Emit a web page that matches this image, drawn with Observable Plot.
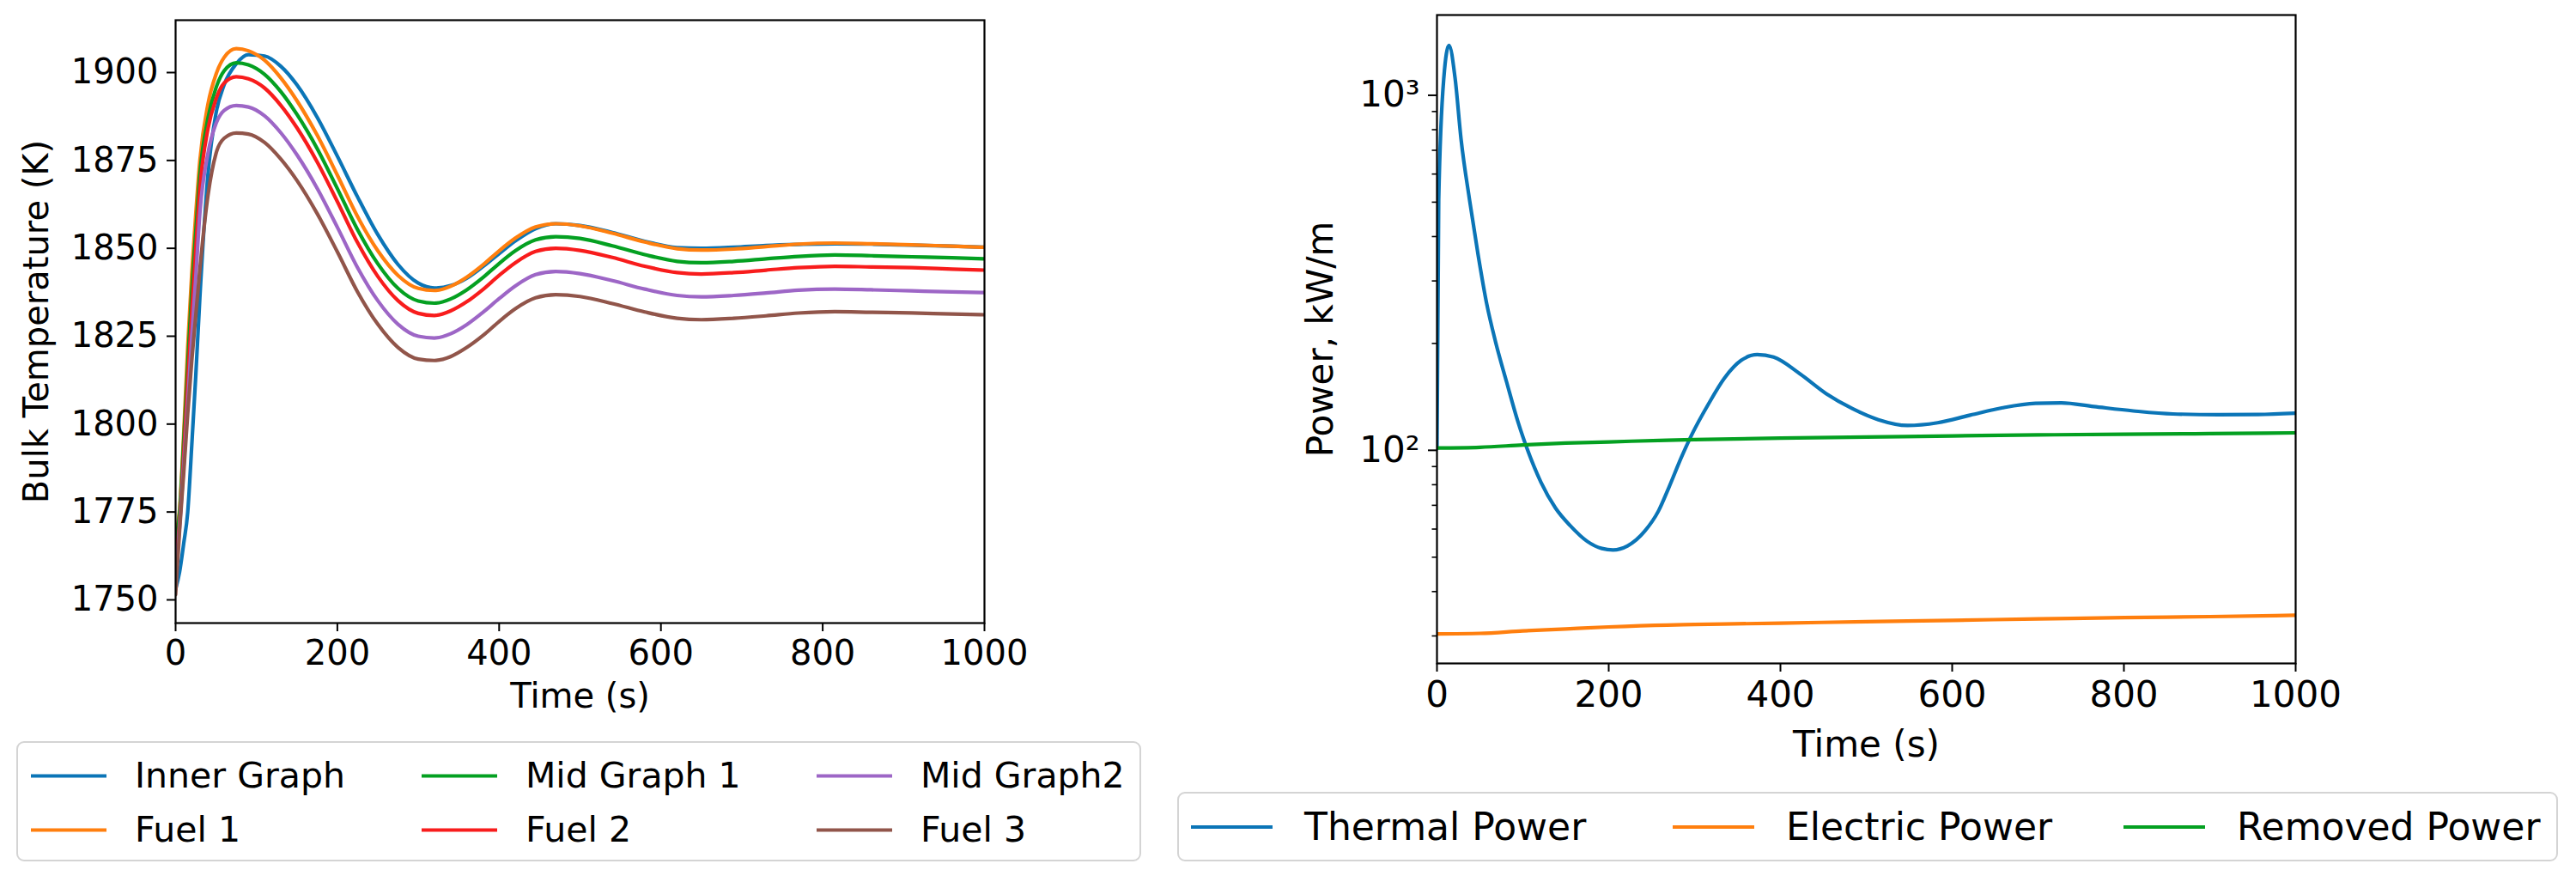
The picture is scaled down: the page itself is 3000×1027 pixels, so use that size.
<!DOCTYPE html>
<html>
<head>
<meta charset="utf-8">
<script src="https://cdn.jsdelivr.net/npm/d3@7"></script>
<script src="https://cdn.jsdelivr.net/npm/@observablehq/plot@0.6"></script>
<style>
  body { margin: 0; background: white; width: 3000px; height: 1027px; position: relative; overflow: hidden;
         font-family: "DejaVu Sans", sans-serif; color: black; }
  .chart { position: absolute; top: 0; }
  .legend { position: absolute; box-sizing: border-box; border: 2.5px solid #d4d4d4; border-radius: 9px; background: white; }
  .item { position: absolute; display: flex; align-items: center; transform: translateY(-50%); white-space: nowrap; line-height: 1; }
  .item svg { display: block; }
</style>
</head>
<body>
<div id="left" class="chart" style="left:0px"></div>
<div id="right" class="chart" style="left:1480px"></div>
<script>
// ---- left panel: bulk temperatures ----
const tTemp = [0, 5, 10, 15, 20, 25, 30, 40, 50, 60, 75, 90, 110, 130, 150, 175, 200, 225, 250, 275,
  300, 320, 340, 360, 380, 400, 420, 445, 470, 500, 540, 580, 620, 650, 690, 730, 770, 815, 860, 910, 960, 1000];
const innerGraph = [1753, 1758, 1766, 1775, 1794, 1814, 1836, 1871, 1888.5, 1896.5, 1902.5, 1905.1, 1904.7, 1901.8, 1896.5, 1887.3, 1876.2, 1864.6, 1853.9, 1845.4,
  1840.1, 1838.7, 1839.4, 1841.5, 1844.8, 1848.5, 1852.1, 1855.6, 1857.0, 1856.5, 1854.5, 1852.0, 1850.2, 1850.0, 1850.3, 1850.8, 1851.1, 1851.3, 1851.2, 1850.9, 1850.6, 1850.3];
const fuel1 = [1769, 1776, 1797, 1822, 1843, 1860, 1875, 1891, 1899.5, 1904.3, 1906.8, 1906.2, 1903.5, 1898.5, 1892.0, 1882.2, 1870.8, 1859.0, 1849.3, 1842.3,
  1838.6, 1838.0, 1839.2, 1841.8, 1845.3, 1849.3, 1852.9, 1856.1, 1857.0, 1856.4, 1854.3, 1851.8, 1849.9, 1849.5, 1849.8, 1850.5, 1851.2, 1851.5, 1851.3, 1851.0, 1850.6, 1850.3];
const midGraph1 = [1766.8, 1775, 1795, 1817, 1838, 1855, 1871, 1887, 1895.7, 1900.5, 1902.8, 1902.2, 1899.5, 1894.6, 1888.1, 1878.4, 1867.0, 1855.3, 1845.6, 1838.6,
  1835.0, 1834.4, 1835.6, 1838.2, 1841.7, 1845.7, 1849.3, 1852.4, 1853.3, 1852.8, 1850.7, 1848.2, 1846.3, 1845.9, 1846.3, 1847.0, 1847.7, 1848.1, 1847.9, 1847.6, 1847.3, 1847.0];
const fuel2 = [1762, 1772, 1791, 1812, 1832, 1850, 1867, 1884, 1892.5, 1897, 1898.8, 1898.2, 1895.6, 1890.7, 1884.3, 1874.6, 1863.3, 1851.6, 1842.0, 1835.1,
  1831.5, 1830.9, 1832.2, 1834.8, 1838.3, 1842.3, 1845.9, 1849.1, 1850.0, 1849.4, 1847.4, 1844.9, 1843.1, 1842.7, 1843.1, 1843.8, 1844.5, 1844.9, 1844.7, 1844.5, 1844.1, 1843.8];
const midGraph2 = [1756.3, 1771, 1788, 1806, 1825, 1842, 1860, 1877, 1885.5, 1889.2, 1890.6, 1890.2, 1887.7, 1882.9, 1876.6, 1867.1, 1856.0, 1844.5, 1835.1, 1828.4,
  1825.0, 1824.5, 1825.7, 1828.3, 1831.8, 1835.7, 1839.3, 1842.5, 1843.4, 1842.8, 1840.8, 1838.4, 1836.6, 1836.2, 1836.6, 1837.3, 1838.1, 1838.4, 1838.2, 1837.9, 1837.6, 1837.4];
const fuel3 = [1751.5, 1770, 1786, 1803, 1818, 1831, 1844, 1865, 1877, 1881.3, 1882.8, 1882.5, 1880.1, 1875.4, 1869.3, 1859.9, 1849.0, 1837.6, 1828.4, 1821.8,
  1818.5, 1818.1, 1819.2, 1821.8, 1825.2, 1829.2, 1832.8, 1835.9, 1836.8, 1836.3, 1834.3, 1831.9, 1830.1, 1829.7, 1830.1, 1830.8, 1831.6, 1832.0, 1831.8, 1831.6, 1831.3, 1831.1];
const tempNames = ["Inner Graph", "Fuel 1", "Mid Graph 1", "Fuel 2", "Mid Graph2", "Fuel 3"];
const tempValues = [innerGraph, fuel1, midGraph1, fuel2, midGraph2, fuel3];
const tempColors = ["#0b75b7", "#ff7f0e", "#04a021", "#f81c1c", "#9d66c6", "#91554a"];
const tempTicks = [1750, 1775, 1800, 1825, 1850, 1875, 1900];
const timeTicks = [0, 200, 400, 600, 800, 1000];

// ---- right panel: power (log scale) ----
const tThermal = [0, 2, 8, 14, 21, 28, 38, 48, 58, 68, 81, 94, 105, 121, 138, 155, 175, 192, 205, 222,
  242, 258, 270, 285, 297, 316, 335, 354, 373, 392, 423, 453, 484, 514, 548, 583, 621, 659, 697, 727, 765, 811, 857, 910, 956, 1000];
const thermalPower = [101, 506, 1122, 1383, 1122, 754, 506, 354, 258, 203, 156, 121, 101, 81.4, 68.8, 61.4, 55.4, 52.9, 52.4, 53.8,
  59.2, 67.5, 78.5, 96, 111, 134.8, 160, 179, 186, 183, 164, 144.6, 131, 122, 117.5, 119.6, 125.6, 131.8, 135.6, 136, 132.8, 129.1, 126.6, 126, 126.2, 127.3];
const tPower = [0, 50, 100, 150, 200, 268, 300, 400, 500, 600, 700, 800, 900, 1000];
const electricPower = [30.4, 30.5, 31.0, 31.4, 31.8, 32.2, 32.3, 32.6, 32.9, 33.2, 33.5, 33.8, 34.0, 34.3];
const removedPower = [101.5, 102, 103.5, 104.8, 105.6, 106.8, 107.2, 108.2, 109, 109.8, 110.5, 111, 111.4, 112];
const powerNames = ["Thermal Power", "Electric Power", "Removed Power"];
const powerColors = ["#0b75b7", "#ff7f0e", "#04a021"];
const powerMajor = [100, 1000];
const powerMinor = [30, 40, 50, 60, 70, 80, 90, 200, 300, 400, 500, 600, 700, 800, 900];

const FONT = '"DejaVu Sans", sans-serif';
const LW = 4.2;

const tempRows = tempNames.flatMap((name, k) => tTemp.map((t, i) => ({t, v: tempValues[k][i], name})));
const powerRows = [
  ...tThermal.map((t, i) => ({t, v: thermalPower[i], name: powerNames[0]})),
  ...tPower.map((t, i) => ({t, v: electricPower[i], name: powerNames[1]})),
  ...tPower.map((t, i) => ({t, v: removedPower[i], name: powerNames[2]})),
];

const left = Plot.plot({
  width: 1220, height: 850,
  marginLeft: 204, marginTop: 23, marginRight: 74, marginBottom: 125,
  style: {fontFamily: FONT, fontSize: "40px", color: "black", background: "white"},
  x: {domain: [0, 1000]},
  y: {domain: [1743.4, 1914.9]},
  color: {domain: tempNames, range: tempColors},
  marks: [
    Plot.line(tempRows, {x: "t", y: "v", z: "name", stroke: "name", strokeWidth: LW, curve: "monotone-x", clip: true}),
    Plot.frame({stroke: "black", strokeWidth: 2.2}),
    Plot.axisX({ticks: timeTicks, tickSize: 10, tickPadding: 10, strokeWidth: 2, tickFormat: d3.format("d"), label: null, fontSize: 40}),
    Plot.axisY({ticks: tempTicks, tickSize: 10, tickPadding: 10, strokeWidth: 2, tickFormat: d3.format("d"), label: null, fontSize: 40}),
    Plot.text(["Time (s)"], {frameAnchor: "bottom", dy: 98, fontSize: 40}),
    Plot.text(["Bulk Temperature (K)"], {frameAnchor: "left", dx: -161, rotate: -90, textAnchor: "middle", fontSize: 40}),
  ]
});
document.getElementById("left").append(left);

const right = Plot.plot({
  width: 1300, height: 905,
  marginLeft: 193, marginTop: 17, marginRight: 107, marginBottom: 133,
  style: {fontFamily: FONT, fontSize: "42px", color: "black", background: "white"},
  x: {domain: [0, 1000]},
  y: {type: "log", domain: [25.1, 1683]},
  color: {domain: powerNames, range: powerColors},
  marks: [
    Plot.line(powerRows, {x: "t", y: "v", z: "name", stroke: "name", strokeWidth: LW, curve: "monotone-x", clip: true}),
    Plot.frame({stroke: "black", strokeWidth: 2.2}),
    Plot.axisX({ticks: timeTicks, tickSize: 10, tickPadding: 11, strokeWidth: 2, tickFormat: d3.format("d"), label: null, fontSize: 42}),
    Plot.axisY({ticks: powerMajor, tickSize: 10, tickPadding: 10, strokeWidth: 2, tickFormat: d => d === 100 ? "10²" : "10³", label: null, fontSize: 42}),
    Plot.axisY({ticks: powerMinor, tickSize: 5.5, strokeWidth: 1.6, tickFormat: () => "", label: null}),
    Plot.text(["Time (s)"], {frameAnchor: "bottom", dy: 108, fontSize: 42}),
    Plot.text(["Power, kW/m"], {frameAnchor: "left", dx: -135, rotate: -90, textAnchor: "middle", fontSize: 42}),
  ]
});
document.getElementById("right").append(right);

// matplotlib-style legends below each panel
function legend(box, names, colors, cols, rows, opts) {
  const div = document.createElement("div");
  div.className = "legend";
  Object.assign(div.style, {left: box.x + "px", top: box.y + "px", width: box.w + "px", height: box.h + "px"});
  names.forEach((name, i) => {
    const el = document.createElement("div");
    el.className = "item";
    el.style.left = cols[Math.floor(i / rows.length)] + "px";
    el.style.top = rows[i % rows.length] + "px";
    el.style.fontSize = opts.font + "px";
    el.innerHTML = `<svg width="${opts.handle}" height="10"><line x1="0" x2="${opts.handle}" y1="5" y2="5" stroke="${colors[i]}" stroke-width="${LW}"/></svg>` +
      `<span style="margin-left:${opts.gap}px">${name}</span>`;
    div.append(el);
  });
  document.body.append(div);
}

legend({x: 19, y: 863, w: 1310, h: 140}, tempNames, tempColors, [15, 470, 930], [38, 101], {font: 41, handle: 88, gap: 33});
legend({x: 1371, y: 922, w: 1608, h: 81}, powerNames, powerColors, [14, 575, 1100], [39], {font: 44, handle: 95, gap: 37});
</script>
</body>
</html>
